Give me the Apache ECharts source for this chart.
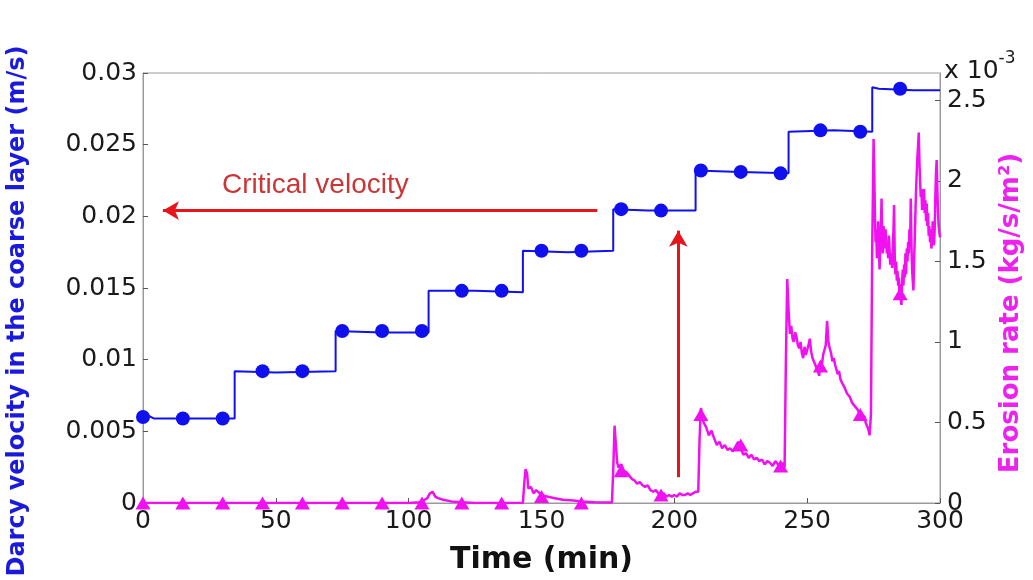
<!DOCTYPE html>
<html>
<head>
<meta charset="utf-8">
<script src="https://cdn.jsdelivr.net/npm/echarts@6/dist/echarts.min.js"></script>
<style>
  html, body { margin: 0; padding: 0; background: #fff; }
  #chart { width: 1033px; height: 580px; }
</style>
</head>
<body>
<div id="chart"></div>
<script>
// Darcy velocity in the coarse layer (m/s): stepwise record over time (min)
const velocityPath = [
  [0, 0.0060], [2, 0.0061], [4, 0.0059], [20, 0.0059], [34.5, 0.0059],
  [34.5, 0.0092], [50, 0.0091], [72.5, 0.0092],
  [72.5, 0.0120], [90, 0.0119], [107.5, 0.0119],
  [107.5, 0.0148], [125, 0.0148], [143, 0.0147],
  [143, 0.0176], [160, 0.0175], [177, 0.0176],
  [177, 0.0205], [190, 0.0204], [208, 0.0204],
  [208, 0.0232], [225, 0.0231], [243, 0.0230],
  [243, 0.0259], [260, 0.0260], [274.5, 0.0259],
  [274.5, 0.0290], [277, 0.0289], [290, 0.0288], [300, 0.0288]
];

// Marker times (min) shared by both records
const markerTimes = [0, 15, 30, 45, 60, 75, 90, 105, 120, 135, 150, 165, 180, 195, 210, 225, 240, 255, 270, 285];
const velocityMarkers = [0.0060, 0.0059, 0.0059, 0.0092, 0.0092, 0.0120, 0.0120, 0.0120, 0.0148, 0.0148,
  0.0176, 0.0176, 0.0205, 0.0204, 0.0232, 0.0231, 0.0230, 0.0260, 0.0259, 0.0289];
const erosionMarkers = [0, 0, 0, 0, 0, 0, 0, 0, 0, 0, 0.04, 0, 0.20, 0.05, 0.55, 0.36, 0.23, 0.85, 0.55, 1.30];

// Erosion rate (x 10^-3 kg/s/m²) over time (min)
const erosionPath = [
  [0, 0], [20, 0], [40, 0], [60, 0], [80, 0], [100, 0], [104, 0.005], [106, 0.02], [107, 0.03],
  [108, 0.06], [109, 0.07], [110, 0.04], [111, 0.03], [113, 0.02], [116, 0.01], [120, 0.005],
  [125, 0], [143, 0], [143.5, 0.12], [144, 0.21], [144.6, 0.18], [145, 0.09], [146, 0.10],
  [147, 0.06], [148, 0.08], [150, 0.05], [152, 0.04], [155, 0.03], [158, 0.02], [162, 0.015],
  [165, 0.01], [170, 0.005], [176.5, 0.003], [177, 0.20], [177.5, 0.48], [178, 0.36],
  [178.5, 0.25], [179, 0.22], [180, 0.24], [181, 0.20], [182, 0.19], [183, 0.17], [184, 0.15],
  [185, 0.14], [186, 0.12], [187, 0.13], [188, 0.11], [189, 0.10], [190, 0.11], [191, 0.08],
  [192, 0.07], [193, 0.08], [194, 0.06], [195, 0.05], [196, 0.06], [197, 0.04], [198, 0.05],
  [199, 0.04], [200, 0.05], [201, 0.04], [202, 0.06], [203, 0.05], [204, 0.05], [205, 0.06],
  [206, 0.05], [207, 0.06], [208, 0.07], [209, 0.07], [209.5, 0.40], [210, 0.59], [210.5, 0.55],
  [211, 0.50], [212, 0.47], [213, 0.42], [214, 0.45], [215, 0.40], [216, 0.36], [217, 0.38],
  [218, 0.34], [219, 0.36], [220, 0.33], [221, 0.34], [222, 0.32], [223, 0.35], [224, 0.38],
  [225, 0.34], [226, 0.30], [227, 0.31], [228, 0.28], [229, 0.30], [230, 0.27], [231, 0.28],
  [232, 0.26], [233, 0.27], [234, 0.24], [235, 0.26], [236, 0.25], [237, 0.23], [238, 0.26],
  [239, 0.24], [240, 0.22], [241, 0.25], [241.5, 0.22], [242, 0.90], [242.5, 1.39], [243, 1.20],
  [243.5, 1.05], [244, 1.10], [244.5, 1.02], [245, 1.00], [245.5, 1.06], [246, 1.03],
  [246.5, 0.98], [247, 0.96], [247.5, 1.00], [248, 0.93], [248.5, 0.90], [249, 0.97],
  [249.5, 0.92], [250, 0.95], [250.5, 0.98], [251, 1.02], [251.5, 0.94], [252, 0.90],
  [252.5, 0.88], [253, 0.86], [253.5, 0.84], [254, 0.82], [254.5, 0.79], [255, 0.88],
  [255.5, 0.85], [256, 0.92], [256.5, 0.95], [257, 0.98], [257.5, 1.13], [258, 1.00],
  [258.5, 0.96], [259, 0.93], [259.5, 0.88], [260, 0.90], [260.5, 0.86], [261, 0.85],
  [261.5, 0.80], [262, 0.82], [262.5, 0.77], [263, 0.75], [263.5, 0.76], [264, 0.72],
  [264.5, 0.70], [265, 0.68], [265.5, 0.69], [266, 0.66], [266.5, 0.64], [267, 0.62],
  [267.5, 0.63], [268, 0.60], [268.5, 0.59], [269, 0.58], [269.5, 0.56], [270, 0.55],
  [270.5, 0.53], [271, 0.52], [271.5, 0.54], [272, 0.50], [272.5, 0.49], [273, 0.46],
  [273.5, 0.42], [274, 0.55], [274.5, 1.60],
  [275, 2.26], [275.25, 2.05], [275.5, 1.80], [275.75, 1.62], [276, 1.70], [276.25, 1.52],
  [276.5, 1.58], [276.75, 1.75], [277, 1.60], [277.25, 1.45], [277.5, 1.44], [277.75, 1.70],
  [278, 1.89], [278.25, 1.62], [278.5, 1.55], [278.75, 1.72], [279, 1.66], [279.25, 1.58],
  [279.5, 1.70], [279.75, 1.62], [280, 1.55], [280.25, 1.60], [280.5, 1.52], [280.75, 1.66],
  [281, 1.58], [281.25, 1.48], [281.5, 1.55], [281.75, 1.50], [282, 1.46], [282.25, 1.60],
  [282.5, 1.70], [282.7, 1.85], [283, 1.48], [283.25, 1.42], [283.5, 1.50], [283.75, 1.38],
  [284, 1.44], [284.25, 1.35], [284.5, 1.40], [284.75, 1.30], [285, 1.36], [285.25, 1.26],
  [285.5, 1.23], [285.75, 1.38], [286, 1.45], [286.25, 1.35], [286.5, 1.48], [286.75, 1.40],
  [287, 1.55], [287.25, 1.42], [287.5, 1.58], [287.75, 1.50], [288, 1.62], [288.25, 1.55],
  [288.5, 1.70], [288.75, 1.60], [289, 1.89], [289.25, 1.60], [289.5, 1.45], [289.75, 1.38],
  [290, 1.32], [290.25, 1.50], [290.5, 1.65], [290.75, 1.80], [291, 1.95], [291.25, 2.05],
  [291.5, 2.15], [291.75, 2.22], [292, 2.30], [292.25, 2.12], [292.5, 2.00], [292.75, 1.90],
  [293, 1.95], [293.25, 1.82], [293.5, 1.92], [293.75, 1.85], [294, 1.95], [294.25, 1.80],
  [294.5, 1.88], [294.75, 1.75], [295, 1.86], [295.25, 1.72], [295.5, 1.80], [295.75, 1.66],
  [296, 1.72], [296.25, 1.62], [296.5, 1.70], [296.75, 1.58], [297, 1.62], [297.25, 1.75],
  [297.5, 1.66], [297.75, 1.60], [298, 1.70], [298.25, 1.90], [298.5, 2.05], [298.75, 2.13],
  [299, 1.95], [299.25, 1.80], [299.5, 1.72], [299.75, 1.68], [300, 1.65]
];

// Annotation arrows: critical velocity level and the onset of erosion
const criticalArrow = [[171, 0.0204], [7.5, 0.0204]];
const onsetArrow = [[201.5, 0.0018], [201.5, 0.0190]];

const axisGray = '#9a9a9a';
const tickFont = { fontFamily: 'DejaVu Sans', fontSize: 25, color: '#1a1a1a' };

const chart = echarts.init(document.getElementById('chart'));
chart.setOption({
  animation: false,
  backgroundColor: '#ffffff',
  grid: { left: 143, right: 93, top: 73, bottom: 72, show: true, borderColor: axisGray, borderWidth: 1 },
  xAxis: {
    type: 'value', min: 0, max: 300, interval: 50,
    axisLine: { lineStyle: { color: axisGray } },
    axisTick: { inside: true, length: 5, lineStyle: { color: '#555' } },
    axisLabel: Object.assign({ margin: 6 }, tickFont),
    splitLine: { show: false },
    name: 'Time (min)', nameLocation: 'middle', nameGap: 42,
    nameTextStyle: { fontFamily: 'DejaVu Sans', fontWeight: 'bold', fontSize: 30, color: '#111' }
  },
  yAxis: [
    {
      type: 'value', min: 0, max: 0.03, interval: 0.005, position: 'left',
      axisLine: { show: true, lineStyle: { color: axisGray } },
      axisTick: { show: true, inside: true, length: 5, lineStyle: { color: '#555' } },
      axisLabel: Object.assign({ margin: 6 }, tickFont),
      splitLine: { show: false }
    },
    {
      type: 'value', min: 0, max: 2.67, interval: 0.5, position: 'right',
      axisLine: { show: true, lineStyle: { color: axisGray } },
      axisTick: { show: true, inside: true, length: 5, lineStyle: { color: '#555' } },
      axisLabel: Object.assign({ margin: 7, showMaxLabel: false }, tickFont),
      splitLine: { show: false }
    }
  ],
  series: [
    {
      name: 'velocity', type: 'line', yAxisIndex: 0, data: velocityPath,
      showSymbol: false, lineStyle: { color: '#1010f0', width: 2 }, z: 3,
      markLine: {
        silent: true, symbol: ['none', 'arrow'], symbolSize: [14, 16],
        label: { show: false },
        lineStyle: { color: '#e8141c', width: 3, type: 'solid' },
        data: [
          [{ coord: criticalArrow[0] }, { coord: criticalArrow[1] }],
          [{ coord: onsetArrow[0] }, { coord: onsetArrow[1] }]
        ]
      }
    },
    {
      name: 'velocity markers', type: 'scatter', yAxisIndex: 0,
      data: markerTimes.map((t, i) => [t, velocityMarkers[i]]),
      symbol: 'circle', symbolSize: 14, itemStyle: { color: '#1010ee', opacity: 1 }, z: 4
    },
    {
      name: 'erosion', type: 'line', yAxisIndex: 1, data: erosionPath,
      showSymbol: false, lineStyle: { color: '#f010f0', width: 2.5 }, z: 3
    },
    {
      name: 'erosion markers', type: 'scatter', yAxisIndex: 1,
      data: markerTimes.map((t, i) => [t, erosionMarkers[i]]),
      symbol: 'triangle', symbolSize: [15, 13], itemStyle: { color: '#f010f0', opacity: 1 }, z: 4
    }
  ],
  graphic: [
    {
      type: 'text', x: 18, y: 311, rotation: Math.PI / 2,
      style: {
        text: 'Darcy velocity in the coarse layer (m/s)', align: 'center', verticalAlign: 'middle',
        fontFamily: 'DejaVu Sans', fontWeight: 'bold', fontSize: 24, fill: '#1a1adc'
      }
    },
    {
      type: 'text', x: 1011, y: 313, rotation: Math.PI / 2,
      style: {
        text: 'Erosion rate (kg/s/m²)', align: 'center', verticalAlign: 'middle',
        fontFamily: 'DejaVu Sans', fontWeight: 'bold', fontSize: 26, fill: '#ee22ee'
      }
    },
    {
      type: 'text', left: 944, top: 50,
      style: {
        text: '{b|x 10}{s|-3}',
        rich: {
          b: { fontFamily: 'DejaVu Sans', fontSize: 25, fill: '#1a1a1a', verticalAlign: 'bottom', lineHeight: 34 },
          s: { fontFamily: 'DejaVu Sans', fontSize: 17, fill: '#1a1a1a', verticalAlign: 'top', lineHeight: 34 }
        }
      }
    },
    {
      type: 'text', left: 222, top: 171,
      style: { text: 'Critical velocity', fontFamily: 'Liberation Sans', fontSize: 28, fill: '#cc3535' }
    }
  ]
});
</script>
</body>
</html>
